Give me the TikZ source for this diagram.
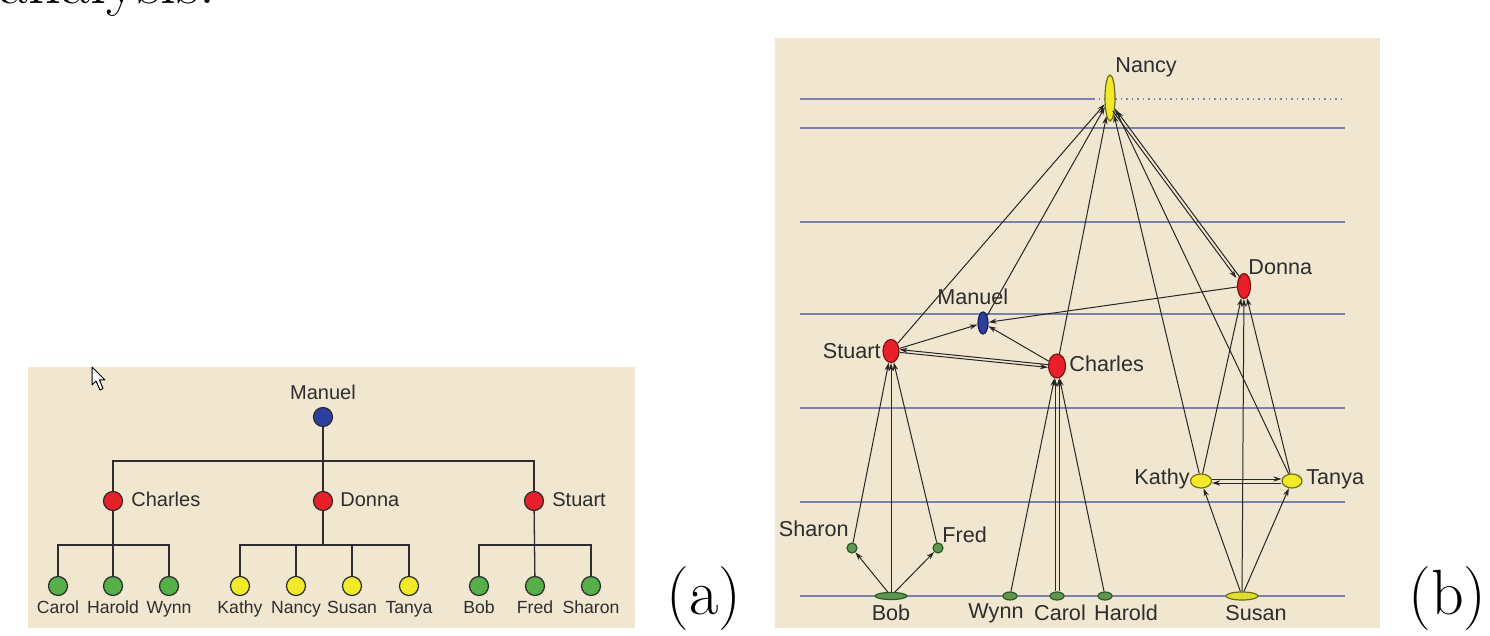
\documentclass[tikz,border=0pt]{standalone}
\usepackage{fontspec}
\setsansfont{Liberation Sans}
\usetikzlibrary{shapes.geometric,arrows.meta}
\definecolor{bg}{RGB}{241,231,208}
\definecolor{txt}{RGB}{45,45,45}
\definecolor{lvl}{RGB}{122,132,168}
\definecolor{tline}{RGB}{45,45,45}
\definecolor{cblue}{RGB}{44,62,158}
\definecolor{cred}{RGB}{232,32,42}
\definecolor{cgreen}{RGB}{86,175,72}
\definecolor{cyellow}{RGB}{242,234,40}
\definecolor{dred}{RGB}{120,20,20}
\definecolor{dgreen}{RGB}{40,90,40}
\definecolor{dyellow}{RGB}{110,110,20}
\definecolor{dblue}{RGB}{20,30,90}
\definecolor{bgreen}{RGB}{95,150,80}
\definecolor{byellow}{RGB}{225,220,50}
\begin{document}
\begin{tikzpicture}[x=0.5pt,y=-0.5pt,
  bigtxt/.style={font=\fontsize{32}{38}\selectfont, inner sep=0},
  adot/.style={circle, draw=tline, line width=0.6pt, minimum size=9.5pt, inner sep=0},
  alab/.style={font=\sffamily\fontsize{10}{12}\selectfont, text=txt, inner sep=0},
  leaflab/.style={font=\sffamily\fontsize{8.8}{10}\selectfont, text=txt, inner sep=0},
  tree/.style={draw=tline, line width=0.65pt},
  bnode/.style={ellipse, line width=0.6pt, inner sep=0},
  blab/.style={font=\sffamily\fontsize{10.8}{12}\selectfont, text=txt, inner sep=0},
  level/.style={draw=lvl, line width=0.75pt},
  conn/.style={draw=black!85, line width=0.5pt, -{Stealth[length=4pt,width=2.6pt]}}
]
\useasboundingbox (0,0) rectangle (1490,636);
\clip (0,0) rectangle (1490,636);

% ---------- stray text and panel labels ----------
\node[bigtxt, anchor=base east] (toptext) at (216,4) {analysis.};
\node[bigtxt, anchor=base] (labA) at (704,614) {(a)};
\node[bigtxt, anchor=base west] (labB) at (1408,614) {(b)};

% ---------- panel (a) ----------
\fill[bg] (28,367) rectangle (635,628);
\draw[fill=white, draw=black, line width=0.5pt, line join=round]
  (92,367) -- (92,385) -- (96,381) -- (100,390) -- (103,388.5) -- (99.5,380) -- (105,380) -- cycle;

\node[adot, fill=cblue] (aManuel) at (323,417) {};
\node[adot, fill=cred] (aCharles) at (113,501) {};
\node[adot, fill=cred] (aDonna) at (323,501) {};
\node[adot, fill=cred] (aStuart) at (534,501) {};
\foreach \n/\x/\c in {Carol/58/cgreen, Harold/113/cgreen, Wynn/169/cgreen,
  Kathy/240/cyellow, Nancy/296/cyellow, Susan/352/cyellow, Tanya/409/cyellow,
  Bob/479/cgreen, Fred/535/cgreen, Sharon/591/cgreen}{
  \node[adot, fill=\c] (a\n) at (\x,586) {};
  \node[leaflab, anchor=base] (a\n L) at (\x,613) {\n};
}
\node[alab, anchor=base] (aManuelL) at (323,400) {Manuel};
\node[alab, anchor=base west] (aCharlesL) at (131,507) {Charles};
\node[alab, anchor=base west] (aDonnaL) at (340,507) {Donna};
\node[alab, anchor=base west] (aStuartL) at (552,507) {Stuart};

\coordinate (barTop) at (323,461);
\coordinate (barC) at (113,545);
\coordinate (barD) at (323,545);
\coordinate (barS) at (534,545);
\draw[tree] (aCharles) |- (barTop) -| (aStuart);
\draw[tree] (aManuel) -- (aDonna);
\draw[tree] (aCarol) |- (barC) -| (aWynn);
\draw[tree] (aCharles) -- (aHarold);
\draw[tree] (aKathy) |- (barD) -| (aTanya);
\draw[tree] (aDonna) -- (barD);
\draw[tree] (aNancy) -- (aNancy |- barD);
\draw[tree] (aSusan) -- (aSusan |- barD);
\draw[tree] (aBob) |- (barS) -| (aSharon);
\draw[tree] (aStuart) -- (aFred);

% ---------- panel (b) ----------
\fill[bg] (775,38) rectangle (1380,628);
\draw[level] (800,99) -- (1093,99);
\draw[level, dotted] (1093,99) -- (1345,99);
\foreach \y in {128,222,314,408,502,596}{
  \draw[level] (800,\y) -- (1345,\y);
}

\node[bnode, fill=cyellow, draw=dyellow, minimum width=5pt, minimum height=23pt] (bNancy) at (1110,98) {};
\node[bnode, fill=cred, draw=dred, minimum width=6.5pt, minimum height=12.5pt] (bDonna) at (1244,286) {};
\node[bnode, fill=cblue, draw=dblue, minimum width=5pt, minimum height=11pt] (bManuel) at (983,323) {};
\node[bnode, fill=cred, draw=dred, minimum width=8pt, minimum height=11.5pt] (bStuart) at (891,351) {};
\node[bnode, fill=cred, draw=dred, minimum width=8.5pt, minimum height=12pt] (bCharles) at (1057,366) {};
\node[bnode, fill=cyellow, draw=dyellow, minimum width=10.5pt, minimum height=7pt] (bKathy) at (1201,481) {};
\node[bnode, fill=cyellow, draw=dyellow, minimum width=10pt, minimum height=7pt] (bTanya) at (1292,481) {};
\node[bnode, fill=bgreen, draw=dgreen, minimum width=5pt, minimum height=5pt] (bSharon) at (852,548) {};
\node[bnode, fill=bgreen, draw=dgreen, minimum width=5pt, minimum height=5pt] (bFred) at (938,548) {};
\node[bnode, fill=bgreen, draw=dgreen, minimum width=16pt, minimum height=3.5pt] (bBob) at (891,596) {};
\node[bnode, fill=bgreen, draw=dgreen, minimum width=7pt, minimum height=4pt] (bWynn) at (1010,596) {};
\node[bnode, fill=bgreen, draw=dgreen, minimum width=7pt, minimum height=4pt] (bCarol) at (1057,596) {};
\node[bnode, fill=bgreen, draw=dgreen, minimum width=7pt, minimum height=4pt] (bHarold) at (1105,596) {};
\node[bnode, fill=byellow, draw=dyellow, minimum width=16pt, minimum height=4pt] (bSusan) at (1242,596) {};

\node[blab, anchor=west] (bNancyL) at (1115,67) {Nancy};
\node[blab, anchor=west] (bDonnaL) at (1248,267) {Donna};
\node[blab, anchor=west] (bManuelL) at (937,297) {Manuel};
\node[blab, anchor=east] (bStuartL) at (881,351) {Stuart};
\node[blab, anchor=west] (bCharlesL) at (1069,364) {Charles};
\node[blab, anchor=east] (bKathyL) at (1190,479) {Kathy};
\node[blab, anchor=west] (bTanyaL) at (1306,479) {Tanya};
\node[blab, anchor=east] (bSharonL) at (849,529) {Sharon};
\node[blab, anchor=west] (bFredL) at (942,535) {Fred};
\node[blab] (bBobL) at (891,613) {Bob};
\node[blab] (bWynnL) at (996,613) {Wynn};
\node[blab] (bCarolL) at (1060,613) {Carol};
\node[blab] (bHaroldL) at (1126,613) {Harold};
\node[blab] (bSusanL) at (1256,613) {Susan};

% edges
\draw[conn] (bBob) -- (bSharon);
\draw[conn] (bBob) -- (bFred);
\draw[conn] (bSharon) -- (bStuart);
\draw[conn] (bBob) -- (bStuart);
\draw[conn] (bFred) -- (bStuart);
\draw[conn] (bWynn) -- (bCharles);
\draw[conn] ([xshift=-1pt]bCarol.north) -- ([xshift=-1pt]bCharles.south);
\draw[conn] ([xshift=1pt]bCarol.north) -- ([xshift=1pt]bCharles.south);
\draw[conn] (bHarold) -- (bCharles);
\draw[conn] (bStuart) -- (bManuel);
\draw[conn] (bCharles) -- (bManuel);
\draw[conn] (bDonna) -- (bManuel);
\draw[conn] ([yshift=0.7pt]bCharles.west) -- ([yshift=0.7pt]bStuart.east);
\draw[conn] ([yshift=-0.7pt]bStuart.east) -- ([yshift=-0.7pt]bCharles.west);
\draw[conn] (bStuart) -- (bNancy);
\draw[conn] (bManuel) -- (bNancy);
\draw[conn] (bCharles) -- (bNancy);
\draw[conn] (bKathy) -- (bNancy);
\draw[conn] (bTanya) -- (bNancy);
\draw[conn] ([xshift=-1pt]bNancy.-70) -- ([xshift=-1pt]bDonna.125);
\draw[conn] ([xshift=1pt]bDonna.125) -- ([xshift=1pt]bNancy.-70);
\draw[conn] (bKathy) -- (bDonna);
\draw[conn] (bTanya) -- (bDonna);
\draw[conn] (bSusan) -- (bDonna);
\draw[conn] (bSusan) -- (bKathy);
\draw[conn] (bSusan) -- (bTanya);
\draw[conn] ([yshift=1pt]bKathy.east) -- ([yshift=1pt]bTanya.west);
\draw[conn] ([yshift=-1pt]bTanya.west) -- ([yshift=-1pt]bKathy.east);
\end{tikzpicture}
\end{document}
